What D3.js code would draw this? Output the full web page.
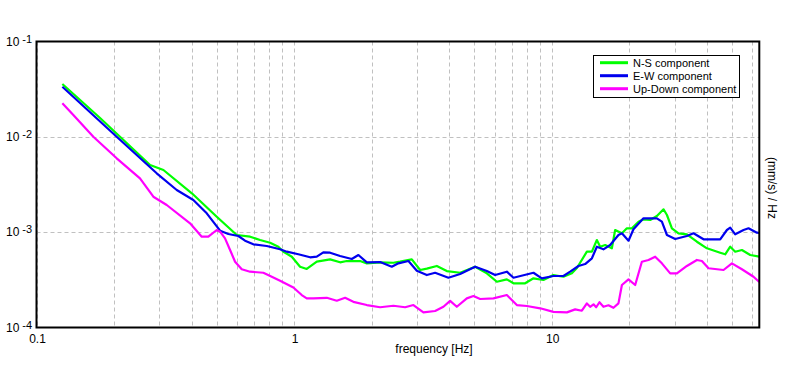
<!DOCTYPE html>
<html>
<head>
<meta charset="utf-8">
<script src="https://cdn.jsdelivr.net/npm/d3@7"></script>
<style>
  body { margin: 0; background: #fff; }
  text { font-family: Arial, "Liberation Sans", sans-serif; fill: #000; }
  .grid line { stroke: #c0c0c0; stroke-dasharray: 4,3; stroke-width: 1; }
</style>
</head>
<body>
<div id="chart"></div>
<script>
// frequency [Hz] and amplitude [(mm/s)/Hz]
const nsFreq = [0.126, 0.1765, 0.276, 0.311, 0.401, 0.501, 0.599, 0.675, 0.738, 0.807, 0.869, 0.909, 0.980, 1.055, 1.120, 1.225, 1.380, 1.509, 1.602, 1.804, 1.916, 2.158, 2.430, 2.580, 2.865, 3.086, 3.276, 3.583, 3.917, 4.413, 5.045, 5.603, 6.127, 6.699, 7.107, 7.891, 8.501, 9.293, 10.16, 11.11, 11.98, 12.53, 13.70, 14.33, 14.98, 15.43, 16.14, 17.13, 17.64, 18.74, 19.59, 20.49, 21.74, 22.73, 24.13, 25.62, 27.19, 28.03, 29.30, 31.08, 33.50, 36.64, 40.07, 45.12, 47.19, 49.35, 51.60, 54.78, 59.01, 64.0]
const nsVal = [0.0358, 0.01576, 0.00506, 0.004487, 0.002556, 0.001453, 0.000934, 0.000896, 0.000827, 0.000775, 0.000704, 0.000624, 0.000553, 0.000434, 0.000411, 0.000490, 0.000519, 0.000483, 0.000498, 0.000498, 0.000471, 0.000483, 0.000478, 0.000490, 0.000519, 0.000401, 0.000414, 0.000442, 0.000391, 0.000375, 0.000434, 0.000370, 0.000302, 0.000320, 0.000291, 0.000291, 0.000328, 0.000315, 0.000355, 0.000341, 0.000370, 0.000421, 0.000624, 0.000624, 0.000827, 0.000704, 0.000733, 0.000677, 0.001054, 0.000973, 0.001098, 0.001098, 0.001288, 0.001365, 0.001341, 0.001477, 0.001737, 0.001514, 0.001098, 0.000973, 0.000950, 0.000794, 0.000677, 0.000609, 0.000586, 0.000704, 0.000624, 0.000650, 0.000576, 0.000553]

const ewFreq = [0.126, 0.2048, 0.2929, 0.3503, 0.4064, 0.4581, 0.5161, 0.5556, 0.6076, 0.6451, 0.6949, 0.7834, 0.8823, 0.9368, 1.039, 1.154, 1.225, 1.299, 1.380, 1.509, 1.675, 1.777, 1.916, 2.158, 2.395, 2.541, 2.780, 2.996, 3.276, 3.528, 3.974, 4.413, 5.045, 5.603, 6.034, 6.699, 7.107, 8.501, 9.159, 10.16, 11.11, 11.80, 12.71, 13.49, 14.33, 14.98, 15.89, 16.87, 18.17, 18.74, 19.88, 20.78, 22.73, 25.62, 26.79, 28.03, 30.18, 33.50, 35.54, 38.87, 45.12, 47.91, 49.35, 51.60, 55.59, 58.12, 62.65, 64.0]
const ewVal = [0.03357, 0.01003, 0.004144, 0.002768, 0.002175, 0.001577, 0.001036, 0.000956, 0.000912, 0.000814, 0.000746, 0.000716, 0.000661, 0.000624, 0.000586, 0.000545, 0.000553, 0.000615, 0.000609, 0.000562, 0.000523, 0.000576, 0.000483, 0.000486, 0.000434, 0.000471, 0.000498, 0.000394, 0.000355, 0.000375, 0.000333, 0.000364, 0.000434, 0.000391, 0.000355, 0.000385, 0.000333, 0.000375, 0.000328, 0.000347, 0.000347, 0.000385, 0.000442, 0.000463, 0.000532, 0.000704, 0.000661, 0.000733, 0.000934, 0.000973, 0.000814, 0.001072, 0.001398, 0.001398, 0.001288, 0.000934, 0.000848, 0.000912, 0.000973, 0.000842, 0.000842, 0.001054, 0.001114, 0.000950, 0.001054, 0.001098, 0.000987, 0.000980]

const udFreq = [0.126, 0.1390, 0.1662, 0.2048, 0.2522, 0.2842, 0.3203, 0.3946, 0.4381, 0.4647, 0.5010, 0.5161, 0.5395, 0.5643, 0.5901, 0.6263, 0.6747, 0.7599, 0.8193, 0.8823, 0.9938, 1.071, 1.120, 1.188, 1.340, 1.465, 1.578, 1.699, 1.916, 2.158, 2.430, 2.698, 2.906, 3.178, 3.528, 3.800, 4.035, 4.283, 4.684, 4.969, 5.277, 5.943, 6.699, 7.325, 8.011, 9.023, 10.16, 11.46, 12.34, 13.10, 13.70, 14.11, 14.54, 14.89, 15.33, 15.89, 16.62, 17.38, 18.17, 18.74, 19.88, 21.10, 22.40, 23.77, 25.23, 26.79, 28.86, 30.64, 33.50, 36.64, 38.31, 40.64, 46.48, 50.10, 54.78, 60.77, 64.0]
const udVal = [0.02247, 0.01694, 0.01003, 0.005953, 0.003673, 0.002355, 0.001927, 0.001239, 0.000896, 0.000896, 0.001054, 0.001011, 0.000862, 0.000650, 0.000490, 0.000408, 0.000385, 0.000375, 0.000341, 0.000310, 0.000263, 0.000219, 0.000202, 0.000202, 0.000205, 0.000191, 0.000205, 0.000186, 0.000172, 0.000163, 0.000169, 0.000163, 0.000172, 0.000144, 0.000149, 0.000165, 0.000190, 0.000165, 0.000202, 0.000214, 0.000199, 0.000202, 0.000219, 0.000172, 0.000168, 0.000159, 0.000146, 0.000144, 0.000155, 0.000150, 0.000179, 0.000165, 0.000175, 0.000163, 0.000184, 0.000165, 0.000171, 0.000161, 0.000179, 0.000279, 0.000320, 0.000279, 0.000490, 0.000511, 0.000553, 0.000471, 0.000370, 0.000370, 0.000442, 0.000511, 0.000498, 0.000418, 0.000401, 0.000471, 0.000408, 0.000341, 0.000300]

const seriesNames = ['N-S component', 'E-W component', 'Up-Down component']
const seriesColors = ['#00ff00', '#0000ee', '#ff00ff']

const xTickLabels = [0.1, 1, 10]
const yTickExps = [-1, -2, -3, -4]

const width = 796
const height = 370
const margin = { top: 41.5, right: 36.7, bottom: 42.5, left: 36.5 }

const series = [
  { name: seriesNames[0], color: seriesColors[0], f: nsFreq, v: nsVal },
  { name: seriesNames[1], color: seriesColors[1], f: ewFreq, v: ewVal },
  { name: seriesNames[2], color: seriesColors[2], f: udFreq, v: udVal }
]

const svg = d3.select('#chart')
  .append('svg')
  .attr('width', width)
  .attr('height', height)

const x = d3.scaleLog()
  .domain([0.1, 64])
  .range([margin.left, width - margin.right])

const y = d3.scaleLog()
  .domain([1e-4, 1e-1])
  .range([height - margin.bottom, margin.top])

// grid: every 1..9 per decade on x, decades only on y
const xGridVals = []
for (let d = 0.1; d < 100; d *= 10) {
  for (let k = 1; k < 10; k++) {
    const v = +(d * k).toPrecision(3)
    if (v >= 0.1 && v < 64) xGridVals.push(v)
  }
}
const grid = svg.append('g').attr('class', 'grid')
grid.selectAll('.gx')
  .data(xGridVals)
  .enter().append('line')
    .attr('x1', d => Math.round(x(d)) + 0.5)
    .attr('x2', d => Math.round(x(d)) + 0.5)
    .attr('y1', y(1e-1))
    .attr('y2', y(1e-4))
grid.selectAll('.gy')
  .data([1e-2, 1e-3])
  .enter().append('line')
    .attr('x1', x(0.1))
    .attr('x2', x(64))
    .attr('y1', d => Math.round(y(d)) + 0.5)
    .attr('y2', d => Math.round(y(d)) + 0.5)

// curves
const line = d3.line()
  .x(d => x(d[0]))
  .y(d => y(d[1]))
  .curve(d3.curveLinear)

svg.append('g')
  .selectAll('path')
  .data(series)
  .enter().append('path')
    .attr('d', s => line(s.f.map((f, i) => [f, s.v[i]])))
    .attr('fill', 'none')
    .attr('stroke', s => s.color)
    .attr('stroke-width', 2.2)
    .attr('stroke-linejoin', 'round')

// frame
svg.append('rect')
  .attr('x', x(0.1))
  .attr('y', y(1e-1))
  .attr('width', x(64) - x(0.1))
  .attr('height', y(1e-4) - y(1e-1))
  .attr('fill', 'none')
  .attr('stroke', '#000')
  .attr('stroke-width', 2)

// x tick labels
svg.append('g')
  .selectAll('text')
  .data(xTickLabels)
  .enter().append('text')
    .attr('x', d => x(d) + 1)
    .attr('y', y(1e-4) + 15)
    .attr('text-anchor', 'middle')
    .attr('font-size', 12)
    .text(d => d3.format('~g')(d))

// y tick labels: 10 with superscript exponent
const yLab = svg.append('g')
  .selectAll('text')
  .data(yTickExps)
  .enter().append('text')
    .attr('x', 6)
    .attr('y', d => y(Math.pow(10, d)) + 4)
    .attr('font-size', 12)
yLab.append('tspan').text('10')
yLab.append('tspan')
  .attr('dx', 3)
  .attr('dy', -3)
  .attr('font-size', 11)
  .text(d => '-' + Math.abs(d))

// axis titles
svg.append('text')
  .attr('x', 434)
  .attr('y', 353)
  .attr('text-anchor', 'middle')
  .attr('font-size', 12)
  .text('frequency [Hz]')

svg.append('text')
  .attr('transform', `translate(768,188) rotate(90)`)
  .attr('text-anchor', 'middle')
  .attr('font-size', 12)
  .text('(mm/s) / Hz')

// legend
const legend = svg.append('g')
legend.append('rect')
  .attr('x', 593.5)
  .attr('y', 55.5)
  .attr('width', 146)
  .attr('height', 42)
  .attr('fill', '#fff')
  .attr('stroke', '#000')
  .attr('stroke-width', 1)
const legendItem = legend.selectAll('.item')
  .data(series)
  .enter().append('g')
    .attr('transform', (d, i) => `translate(0, ${62.7 + i * 13})`)
legendItem.append('line')
  .attr('x1', 600)
  .attr('x2', 628)
  .attr('stroke', d => d.color)
  .attr('stroke-width', 3)
legendItem.append('text')
  .attr('x', 633)
  .attr('y', 4)
  .attr('font-size', 11)
  .text(d => d.name)
</script>
</body>
</html>
